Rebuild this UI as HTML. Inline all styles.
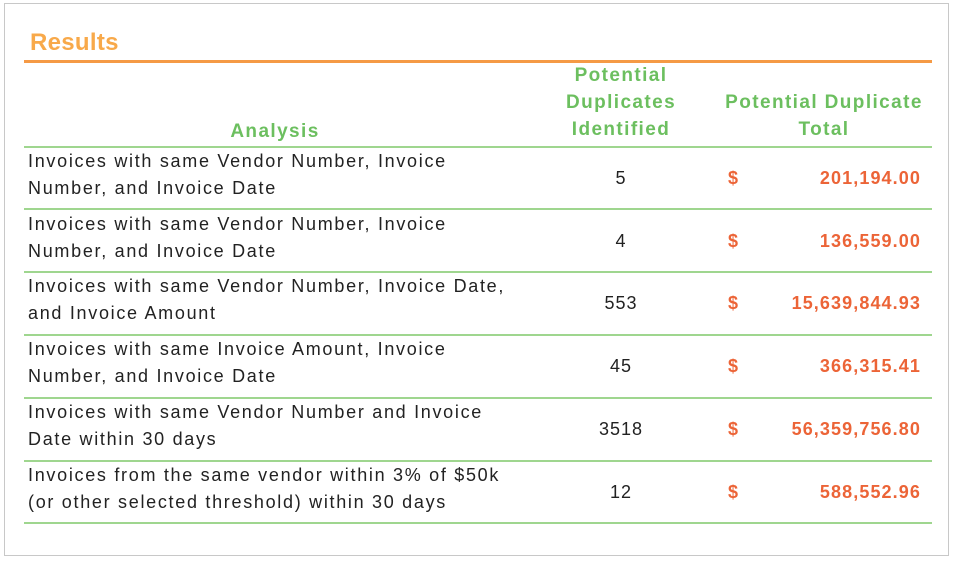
<!DOCTYPE html>
<html><head><style>
body{margin:0;width:955px;height:563px;background:#fff;position:relative;font-family:"Liberation Sans",sans-serif;overflow:hidden}
.frame{position:absolute;left:4px;top:3px;width:945px;height:553px;border:1px solid #c8c8c8;box-sizing:border-box}
.title{position:absolute;left:30px;top:29px;font-size:24px;font-weight:bold;color:#f8a94a;letter-spacing:0.3px}
.ol{position:absolute;left:24px;width:908px;top:60px;height:3px;background:#f59a45}
.gl{position:absolute;left:24px;width:908px;height:1.5px;background:#9fd68f}
.h{position:absolute;color:#6cbf5f;font-weight:bold;font-size:19px;text-align:center;line-height:27px;letter-spacing:1.4px}
.t{position:absolute;left:28px;width:520px;font-size:18px;color:#222;line-height:27px;letter-spacing:1.7px;white-space:nowrap}
.n{position:absolute;left:571px;width:100px;text-align:center;font-size:18px;color:#222;letter-spacing:1px}
.d{position:absolute;left:728px;font-size:18px;font-weight:bold;color:#ec6437}
.a{position:absolute;right:34px;font-size:18px;font-weight:bold;color:#ec6437;letter-spacing:1.1px}
</style></head><body>
<div class="frame"></div>
<div class="title">Results</div>
<div class="ol"></div>
<div class="h" style="left:175px;width:200px;top:118px">Analysis</div>
<div class="h" style="left:536px;width:170px;top:62px">Potential<br>Duplicates<br>Identified</div>
<div class="h" style="left:704px;width:240px;top:89px">Potential Duplicate<br>Total</div>
<div class="gl" style="top:146px"></div>
<div class="gl" style="top:208px"></div>
<div class="gl" style="top:271px"></div>
<div class="gl" style="top:334px"></div>
<div class="gl" style="top:397px"></div>
<div class="gl" style="top:460px"></div>
<div class="gl" style="top:522px"></div>

<div class="t" style="top:148px">Invoices with same Vendor Number, Invoice<br>Number, and Invoice Date</div>
<div class="n" style="top:168px">5</div><div class="d" style="top:168px">$</div><div class="a" style="top:168px">201,194.00</div>

<div class="t" style="top:211px">Invoices with same Vendor Number, Invoice<br>Number, and Invoice Date</div>
<div class="n" style="top:231px">4</div><div class="d" style="top:231px">$</div><div class="a" style="top:231px">136,559.00</div>

<div class="t" style="top:273px">Invoices with same Vendor Number, Invoice Date,<br>and Invoice Amount</div>
<div class="n" style="top:293px">553</div><div class="d" style="top:293px">$</div><div class="a" style="top:293px">15,639,844.93</div>

<div class="t" style="top:336px">Invoices with same Invoice Amount, Invoice<br>Number, and Invoice Date</div>
<div class="n" style="top:356px">45</div><div class="d" style="top:356px">$</div><div class="a" style="top:356px">366,315.41</div>

<div class="t" style="top:399px">Invoices with same Vendor Number and Invoice<br>Date within 30 days</div>
<div class="n" style="top:419px">3518</div><div class="d" style="top:419px">$</div><div class="a" style="top:419px">56,359,756.80</div>

<div class="t" style="top:462px">Invoices from the same vendor within 3% of $50k<br>(or other selected threshold) within 30 days</div>
<div class="n" style="top:482px">12</div><div class="d" style="top:482px">$</div><div class="a" style="top:482px">588,552.96</div>
</body></html>
